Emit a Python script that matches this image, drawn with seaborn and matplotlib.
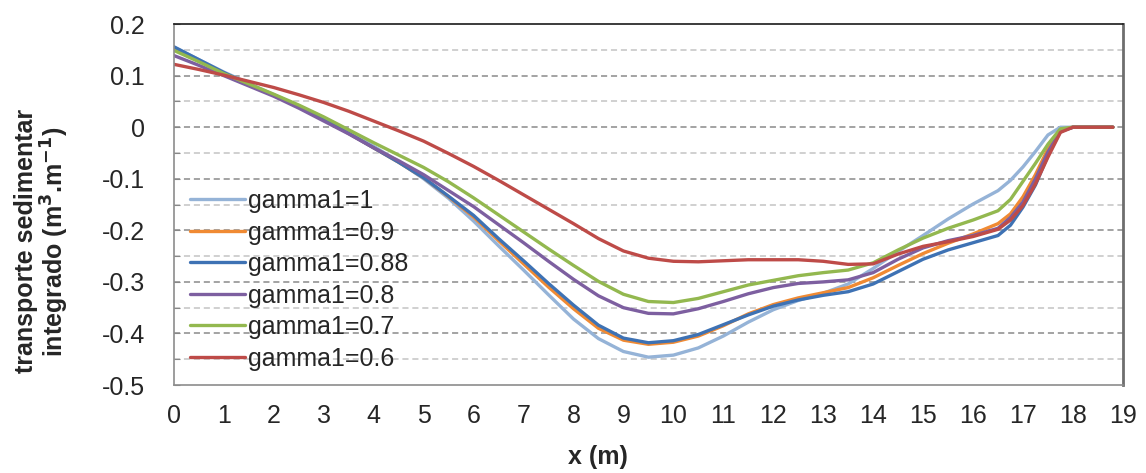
import numpy as np
import pandas as pd
import matplotlib
matplotlib.use("Agg")
import matplotlib.pyplot as plt
from matplotlib.ticker import MultipleLocator
import seaborn as sns

# Position along the profile (m)
x_m = [0, 0.5, 1, 1.5, 2, 2.5, 3, 3.5, 4, 4.5, 5, 5.5, 6, 6.5, 7, 7.5, 8, 8.5,
       9, 9.5, 10, 10.5, 11, 11.5, 12, 12.5, 13, 13.5, 14, 14.5, 15, 15.5, 16,
       16.5, 16.75, 17, 17.25, 17.5, 17.75, 18, 18.5, 18.8]

# Integrated sediment transport (m3/m) for each gamma1 value
q_g100 = [0.155, 0.131, 0.107, 0.085, 0.063, 0.041, 0.017, -0.009, -0.037, -0.067,
          -0.100, -0.138, -0.182, -0.230, -0.277, -0.325, -0.372, -0.410, -0.435,
          -0.446, -0.442, -0.428, -0.405, -0.378, -0.354, -0.336, -0.322, -0.304,
          -0.274, -0.241, -0.210, -0.178, -0.149, -0.123, -0.103, -0.077, -0.047,
          -0.015, 0.0, 0.0, 0.0, 0.0]
q_g090 = [0.153, 0.129, 0.105, 0.083, 0.062, 0.040, 0.015, -0.012, -0.040, -0.068,
          -0.098, -0.135, -0.174, -0.220, -0.265, -0.310, -0.352, -0.390, -0.413,
          -0.421, -0.417, -0.405, -0.385, -0.362, -0.344, -0.331, -0.321, -0.311,
          -0.292, -0.268, -0.245, -0.225, -0.207, -0.187, -0.168, -0.135, -0.092,
          -0.042, -0.006, 0.0, 0.0, 0.0]
q_g088 = [0.156, 0.131, 0.106, 0.083, 0.062, 0.040, 0.015, -0.012, -0.040, -0.068,
          -0.098, -0.134, -0.171, -0.216, -0.259, -0.303, -0.345, -0.384, -0.409,
          -0.418, -0.414, -0.402, -0.383, -0.364, -0.347, -0.335, -0.326, -0.319,
          -0.304, -0.280, -0.256, -0.238, -0.224, -0.210, -0.190, -0.155, -0.112,
          -0.055, -0.008, 0.0, 0.0, 0.0]
q_g080 = [0.139, 0.120, 0.100, 0.080, 0.060, 0.037, 0.012, -0.013, -0.040, -0.065,
          -0.092, -0.123, -0.154, -0.189, -0.224, -0.260, -0.295, -0.327, -0.350,
          -0.361, -0.362, -0.352, -0.338, -0.323, -0.311, -0.303, -0.300, -0.296,
          -0.282, -0.256, -0.234, -0.220, -0.210, -0.196, -0.175, -0.145, -0.100,
          -0.048, -0.008, 0.0, 0.0, 0.0]
q_g070 = [0.149, 0.127, 0.104, 0.084, 0.064, 0.043, 0.020, -0.005, -0.030, -0.054,
          -0.078, -0.106, -0.137, -0.170, -0.203, -0.236, -0.268, -0.299, -0.324,
          -0.338, -0.340, -0.332, -0.319, -0.306, -0.297, -0.288, -0.282, -0.277,
          -0.263, -0.238, -0.215, -0.196, -0.180, -0.162, -0.140, -0.105, -0.070,
          -0.033, -0.003, 0.0, 0.0, 0.0]
q_g060 = [0.122, 0.112, 0.101, 0.089, 0.077, 0.063, 0.048, 0.031, 0.012, -0.007,
          -0.027, -0.051, -0.076, -0.103, -0.131, -0.159, -0.187, -0.216, -0.240,
          -0.254, -0.260, -0.261, -0.259, -0.257, -0.257, -0.257, -0.260, -0.266,
          -0.265, -0.246, -0.231, -0.222, -0.212, -0.198, -0.180, -0.152, -0.110,
          -0.058, -0.010, 0.0, 0.0, 0.0]

series_names = ["gamma1=1", "gamma1=0.9", "gamma1=0.88", "gamma1=0.8",
                "gamma1=0.7", "gamma1=0.6"]
series_values = [q_g100, q_g090, q_g088, q_g080, q_g070, q_g060]
series_colors = ["#95B3D7", "#F08A33", "#3E72B4", "#7D5FA0", "#93B84F", "#BE4B48"]

y_ticks = [0.2, 0.1, 0.0, -0.1, -0.2, -0.3, -0.4, -0.5]
y_tick_labels = ["0.2", "0.1", "0", "-0.1", "-0.2", "-0.3", "-0.4", "-0.5"]
x_ticks = list(range(0, 20))

df = pd.concat(
    [pd.DataFrame({"x": x_m, "q": vals, "serie": name})
     for name, vals in zip(series_names, series_values)],
    ignore_index=True,
)

sns.set_style("white")
plt.rcParams["font.family"] = ["Liberation Sans", "DejaVu Sans"]
plt.rcParams["lines.solid_joinstyle"] = "round"

fig = plt.figure(figsize=(11.46, 4.73), dpi=100)
ax = fig.add_axes([0.1518, 0.186, 0.828, 0.763])

# dashed horizontal grid: darker every 0.1, lighter at the half steps
for yv in np.arange(-0.45, 0.2, 0.05):
    major = abs(round(yv * 10) - yv * 10) < 1e-6
    ax.axhline(yv, color="#8a8a8a" if major else "#c4c4c4", lw=1.1,
               ls=(0, (4, 2.5)), zorder=0)

sns.lineplot(data=df, x="x", y="q", hue="serie", hue_order=series_names,
             palette=series_colors, linewidth=2.4, ax=ax, sort=False,
             estimator=None)

ax.set_xlim(0, 19)
ax.set_ylim(-0.5, 0.2)
ax.set_xticks(x_ticks)
ax.set_xticklabels([str(t) for t in x_ticks])
ax.set_yticks(y_ticks)
ax.set_yticklabels(y_tick_labels)
ax.yaxis.set_minor_locator(MultipleLocator(0.05))
ax.tick_params(axis="x", length=0, pad=14, labelsize=18)
ax.tick_params(axis="y", which="both", direction="in", length=4, width=0.8,
               color="#888888", pad=21, labelsize=18, left=True)

for side in ["left", "bottom"]:
    ax.spines[side].set_color("#8c8c8c")
    ax.spines[side].set_linewidth(1.2)
ax.spines["right"].set_color("#6e6e6e")
ax.spines["right"].set_linewidth(2.0)
ax.spines["top"].set_color("#1a1a1a")
ax.spines["top"].set_linewidth(1.2)

ax.set_xlabel("x (m)", fontsize=18, fontweight="bold")
ax.xaxis.set_label_coords(0.447, -0.165)
ax.set_ylabel("")

fig.text(0.037, 0.49, "transporte sedimentar\nintegrado (m$^\\mathbf{3}$.m$^\\mathbf{-1}$)",
         rotation=90, ha="center", va="center", fontsize=18, fontweight="bold",
         multialignment="center", linespacing=1.0)

handles, labels = ax.get_legend_handles_labels()
ax.legend(handles, labels, loc="lower left", bbox_to_anchor=(0.017, 0.04),
          frameon=False, fontsize=18, handlelength=2.2, handletextpad=0.12,
          labelspacing=0.3, borderpad=0, borderaxespad=0)

fig.savefig("out.png", dpi=100)
